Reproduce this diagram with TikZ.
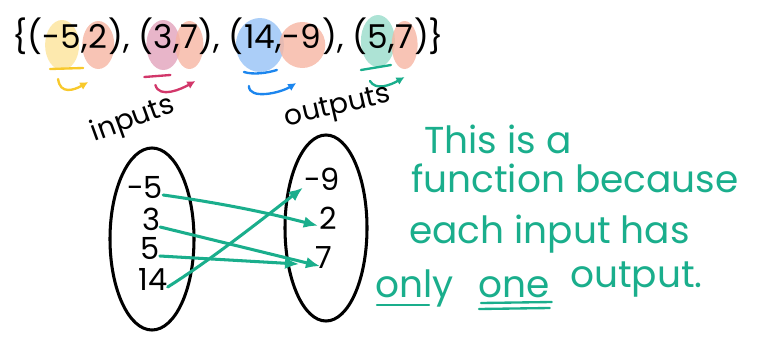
\documentclass[tikz,border=0pt]{standalone}
\usepackage{fontspec}
\setmainfont{Poppins}
\usetikzlibrary{positioning,calc,backgrounds,arrows.meta}
\definecolor{fnteal}{HTML}{1AAE8C}
\definecolor{fnyel}{HTML}{F8C92C}
\definecolor{fnyelf}{HTML}{FCE49A}
\definecolor{fnsalf}{HTML}{F6B5A2}
\definecolor{fnpink}{HTML}{D2376A}
\definecolor{fnpinkf}{HTML}{E2A2BC}
\definecolor{fnblue}{HTML}{1C86EE}
\definecolor{fnbluef}{HTML}{96C2F6}
\definecolor{fngreenf}{HTML}{98DCCA}
\tikzset{
  pair/.style ={inner sep=0pt, font=\fontsize{28}{28}\selectfont,
                text height=0.72em, text depth=0.2em},
  hand/.style ={inner sep=0pt, font=\fontsize{26}{26}\selectfont,
                text height=0.72em, text depth=0.1em},
  lab/.style  ={inner sep=0pt, font=\fontsize{24}{24}\selectfont},
  note/.style ={inner sep=0pt, anchor=base west, text=fnteal,
                font=\fontsize{32}{32}\selectfont},
  oval/.style ={line width=2.6pt, draw=black},
  fl/.style   ={-{Latex[length=12pt,width=10pt]}, line width=2.6pt,
                draw=fnteal, line cap=round},
  cu/.style   ={-{Latex[length=7pt,width=7pt]}, line width=2pt, line cap=round},
  ul/.style   ={line width=2pt, line cap=round},
  hl/.style   ={opacity=0.8}
}
\begin{document}
\begin{tikzpicture}[x=0.03cm, y=-0.03cm]
  \useasboundingbox (0,0) rectangle (763,337);

  % the set of ordered pairs
  \node[pair, anchor=west] (p0) at (12,45) {\{(};
  \node[pair, right=0pt of p0] (x1) {-5};
  \node[pair, right=0pt of x1] (k1) {,};
  \node[pair, right=0pt of k1] (y1) {2};
  \node[pair, right=0pt of y1] (p1) {),\ (};
  \node[pair, right=0pt of p1] (x2) {3};
  \node[pair, right=0pt of x2] (k2) {,};
  \node[pair, right=0pt of k2] (y2) {7};
  \node[pair, right=0pt of y2] (p2) {),\ (};
  \node[pair, right=0pt of p2] (x3) {14};
  \node[pair, right=0pt of x3] (k3) {,};
  \node[pair, right=0pt of k3] (y3) {-9};
  \node[pair, right=0pt of y3] (p3) {),\ (};
  \node[pair, right=0pt of p3] (x4) {5};
  \node[pair, right=0pt of x4] (k4) {,};
  \node[pair, right=0pt of k4] (y4) {7};
  \node[pair, right=0pt of y4] (p4) {)\}};

  \begin{scope}[on background layer]
    \fill[fnyelf,hl]   (x1) ellipse [x radius=17, y radius=25];
    \fill[fnsalf,hl]   (y1) ellipse [x radius=16, y radius=24];
    \fill[fnpinkf,hl]  (x2) ellipse [x radius=17, y radius=25];
    \fill[fnsalf,hl]   (y2) ellipse [x radius=14, y radius=24];
    \fill[fnbluef,hl]  (x3) ellipse [x radius=24, y radius=27];
    \fill[fnsalf,hl]   (y3) ellipse [x radius=23, y radius=23];
    \fill[fngreenf,hl] ($(x4)+(0,-4)$) ellipse [x radius=17, y radius=26];
    \fill[fnsalf,hl]   (y4) ellipse [x radius=13, y radius=24];
  \end{scope}

  % input -> output under each pair
  \draw[ul,fnyel] ($(x1)+(-12,24)$) -- ($(x1)+(21,23)$);
  \draw[cu,fnyel] ($(x1)+(-4,34)$) .. controls +(2,16) and +(-14,8) .. ($(y1)+(-10,37)$);
  \draw[ul,fnpink] ($(x2)+(-19,32)$) -- ($(x2)+(7,30)$);
  \draw[cu,fnpink] ($(x2)+(-8,40)$) .. controls +(4,14) and +(-14,8) .. ($(y2)+(6,36)$);
  \draw[ul,fnblue] ($(x3)+(-16,27)$) .. controls +(10,3) and +(-10,3) .. ($(x3)+(17,25)$);
  \draw[cu,fnblue] ($(x3)+(-11,41)$) .. controls +(0,14) and +(-16,10) .. ($(y3)+(-6,38)$);
  \draw[ul,fnteal] ($(x4)+(-17,25)$) -- ($(x4)+(13,20)$);
  \draw[cu,fnteal] ($(x4)+(-8,36)$) .. controls +(6,10) and +(-14,8) .. ($(y4)+(0,32)$);

  % mapping diagram
  \node[hand] (i1) at (145,195) {-5};
  \node[hand] (i2) at (151,227) {3};
  \node[hand] (i3) at (150,256) {5};
  \node[hand] (i4) at (153,287) {14};
  \node[hand] (o1) at (322,187) {-9};
  \node[hand] (o2) at (328,226) {2};
  \node[hand] (o3) at (324,265) {7};

  \draw[oval] ($(i1)!0.5!(i4)+(3,-2)$) ellipse [x radius=42, y radius=91];
  \draw[oval] ($(o1)!0.5!(o3)+(3,2)$) ellipse [x radius=41, y radius=93];
  \node[lab, rotate=20] (inl) at (133,120) {inputs};
  \node[lab, rotate=13] (outl) at (338,108) {outputs};

  \draw[fl, shorten >=1pt] (i1.east) .. controls +(35,5) and +(-70,-18) .. (o2.west);
  \draw[fl, shorten >=-4pt] (i2.east) -- (o3.west);
  \draw[fl, shorten >=14pt] (i3.east) -- (o3.west);
  \draw[fl, shorten >=1pt] (i4.east) .. controls +(40,-25) and +(-45,35) .. (o1.west);

  % why it is a function
  \node[note] (n1) at (424,153) {This is a};
  \node[note] (n2) at (411,192) {function because};
  \node[note] (n3) at (409,243) {each input has};
  \node[note] (n4) at (375,297) {only};
  \node[note] (n5) at (478,297) {one};
  \node[note] (n6) at (570,287) {output.};
  \draw[ul,fnteal] ($(n4.base west)+(2,8)$) -- ($(n4.base west)+(54,8)$);
  \draw[ul,fnteal] ($(n5.base west)+(3,6)$) -- ($(n5.base east)+(2,5)$);
  \draw[ul,fnteal] ($(n5.base west)+(1,12)$) -- ($(n5.base east)+(0,11)$);
\end{tikzpicture}
\end{document}
